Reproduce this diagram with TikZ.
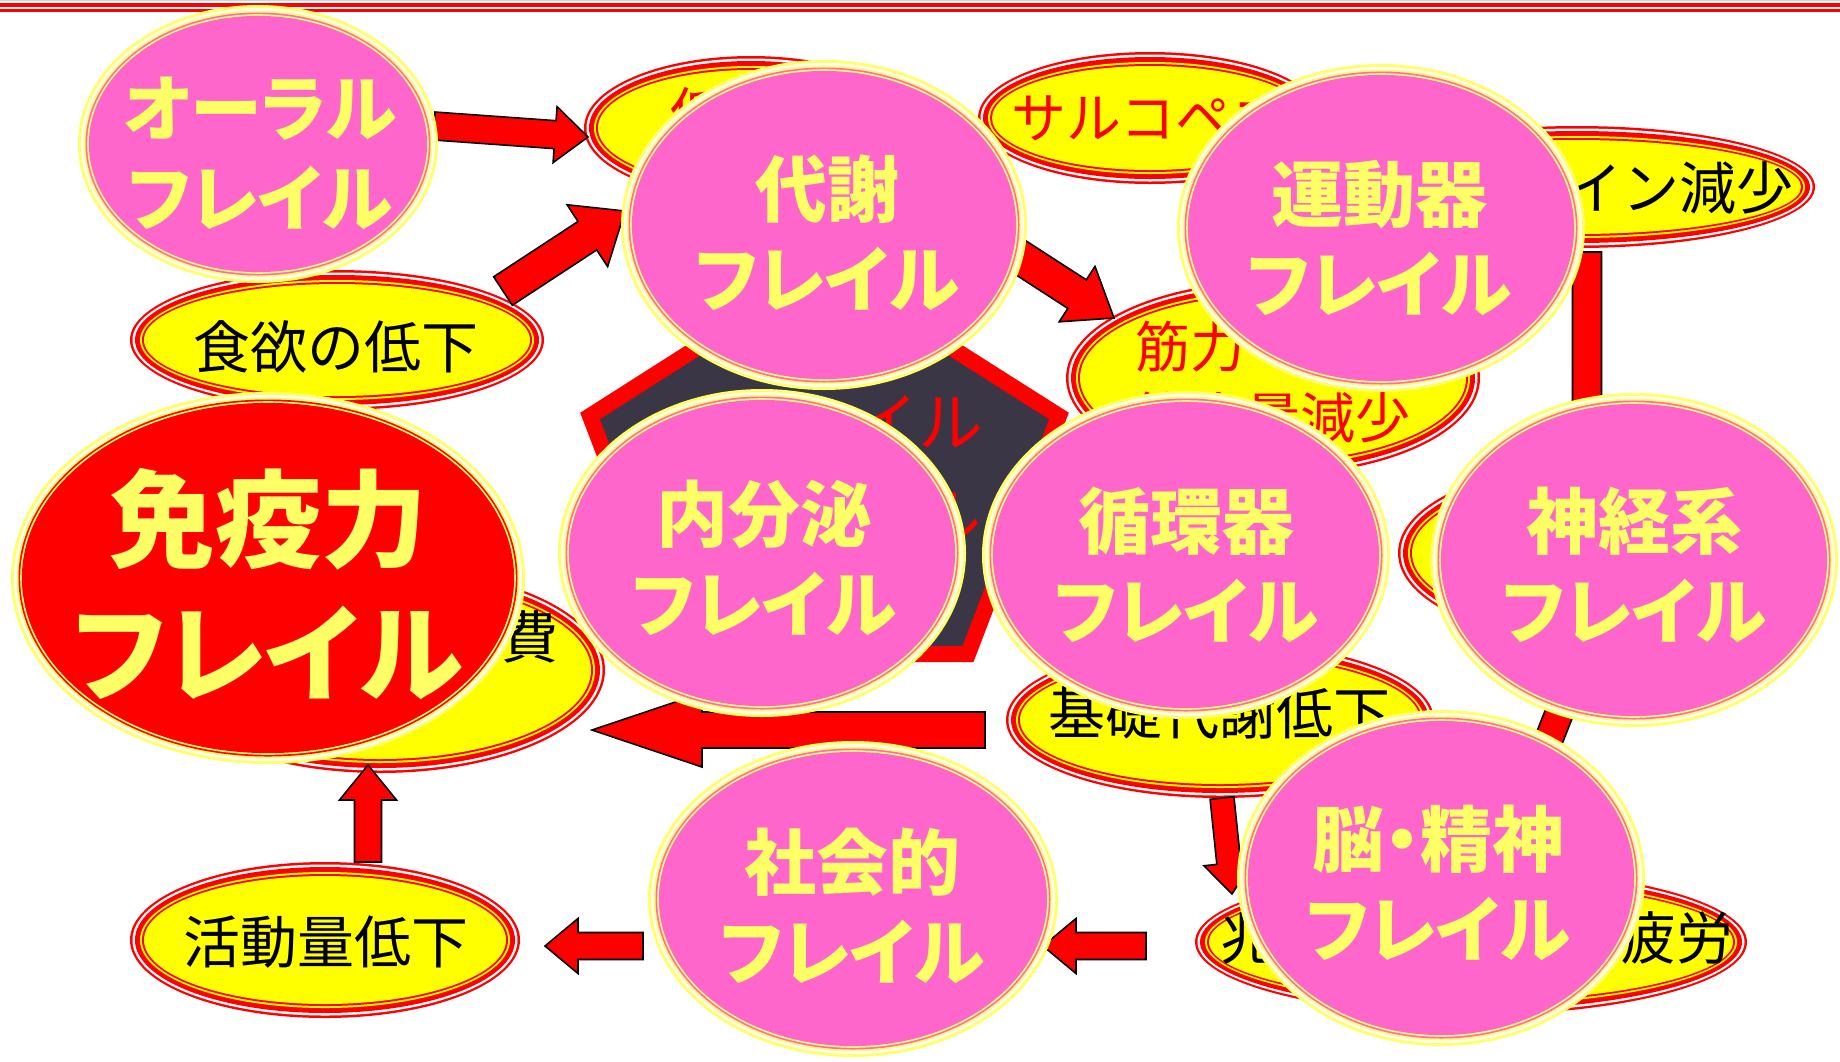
\documentclass[tikz,border=0pt]{standalone}
\usepackage{fontspec}
\newfontfamily\jp{Noto Sans CJK JP}
\newfontfamily\jpp{Noto Sans CJK JP}[RawFeature=+palt]
\usetikzlibrary{calc,shapes.geometric}
\definecolor{pinkF}{HTML}{FF66CC}
\definecolor{ringY}{HTML}{FFFF66}
\definecolor{txtY}{HTML}{FFFF66}
\definecolor{yelF}{HTML}{FFFF00}
\definecolor{redF}{HTML}{FF0000}
\definecolor{slate}{HTML}{3A3646}
\tikzset{
  bub/.style={ellipse, inner sep=0pt},
  bigtxt/.style={text=txtY, align=center, inner sep=0pt, font=\jpp\bfseries\fontsize{36pt}{45pt}\selectfont},
  hugetxt/.style={text=txtY, align=center, inner sep=0pt, font=\jpp\bfseries\fontsize{53pt}{67pt}\selectfont},
  smalltxt/.style={text=black, align=center, inner sep=0pt, font=\jp\fontsize{28.5pt}{35.5pt}\selectfont},
  redtxt/.style={smalltxt, text=redF, font=\jp\fontsize{27.5pt}{35.5pt}\selectfont},
  penttxt/.style={text=redF, align=center, inner sep=0pt, font=\jp\fontsize{32.5pt}{47.5pt}\selectfont},
  barrowS/.style={draw=black, line width=0.8pt, fill=redF, line join=miter},
  pentS/.style={draw=redF, line width=8pt, fill=slate, line join=miter},
}
% yellow bubble with red rings: name, x, y, rx, ry (outer radii, px)
\newcommand\yelEl[5]{%
  \fill[redF] (#2,#3) ellipse [x radius=#4, y radius=#5];
  \fill[white] (#2,#3) ellipse [x radius=#4-2.5, y radius=#5-2.5];
  \fill[redF] (#2,#3) ellipse [x radius=#4-5, y radius=#5-5];
  \fill[yelF] (#2,#3) ellipse [x radius=#4-10, y radius=#5-10];
  \fill[redF] (#2,#3) ellipse [x radius=#4-12, y radius=#5-12];
  \fill[yelF] (#2,#3) ellipse [x radius=#4-14, y radius=#5-14];
  \node[bub, minimum width=#4*1pt, minimum height=#5*1pt] (#1) at (#2,#3) {};}
% bubble with pale yellow rings: name, x, y, rx, ry, fill colour
\newcommand\pinkEl[6]{%
  \fill[ringY] (#2,#3) ellipse [x radius=#4, y radius=#5];
  \fill[white] (#2,#3) ellipse [x radius=#4-3, y radius=#5-3];
  \fill[ringY] (#2,#3) ellipse [x radius=#4-5.5, y radius=#5-5.5];
  \fill[#6] (#2,#3) ellipse [x radius=#4-7.5, y radius=#5-7.5];
  \fill[ringY] (#2,#3) ellipse [x radius=#4-9.2, y radius=#5-9.2];
  \fill[#6] (#2,#3) ellipse [x radius=#4-10.9, y radius=#5-10.9];
  \node[bub, minimum width=#4*1pt, minimum height=#5*1pt] (#1) at (#2,#3) {};}
% block arrow: from, to, shaft half width, head half width, head length (px)
\newcommand\barrow[5]{%
  \path let \p1=(#1), \p2=(#2) in \pgfextra{%
    \pgfmathsetmacro\bang{atan2(\y2-\y1,\x2-\x1)}%
    \pgfmathsetmacro\blen{veclen(\x2-\x1,\y2-\y1)}%
    \xdef\gang{\bang}\xdef\glen{\blen}};
  \begin{scope}[shift={(#1)}, rotate=\gang]
    \draw[barrowS] (0pt,#3*0.5pt) -- ({\glen pt-#5*0.5pt},#3*0.5pt)
      -- ({\glen pt-#5*0.5pt},#4*0.5pt) -- (\glen pt,0pt)
      -- ({\glen pt-#5*0.5pt},-#4*0.5pt) -- ({\glen pt-#5*0.5pt},-#3*0.5pt)
      -- (0pt,-#3*0.5pt) -- cycle;
  \end{scope}}
\begin{document}
\begin{tikzpicture}[x=0.5pt,y=-0.5pt]
\useasboundingbox (0,0) rectangle (1840,1061);
\fill[white] (0,0) rectangle (1840,1061);
% top rule
\fill[gray!35] (0,0) rectangle (1840,1.2);
\fill[redF] (0,2.7) rectangle (1840,6.7);
\fill[redF] (0,9) rectangle (1840,11.7);

% ---- yellow bubbles (lower layer)
\yelEl{teiei}{751}{128}{167}{72}
\node[redtxt] (t-teiei) at (753,113) {低栄養};
\yelEl{sarco}{1150}{118}{172}{66}
\node[redtxt] (t-sarco) at (1176,118) {サルコペニア};
\yelEl{myo}{1577}{187}{238}{61}
\node[smalltxt] (t-myo) at (1565,188) {マイオカイン減少};
\yelEl{shoku}{337}{340}{207}{70}
\node[smalltxt] (t-shoku) at (336,347) {食欲の低下};
\yelEl{shohi}{380}{670}{225}{103}
\node[smalltxt] (t-shohi) at (359,637) {エネルギー消費};
\yelEl{katsu}{325}{940}{195}{78}
\node[smalltxt] (t-katsu) at (326,942) {活動量低下};
\yelEl{kiso}{1220}{720}{214}{78}
\node[smalltxt] (t-kiso) at (1219,713) {基礎代謝低下};
\yelEl{hirou}{1471}{942}{276}{73}
\node[smalltxt] (t-hirou) at (1477,938) {兆候のある慢性疲労};
\yelEl{hokou}{1590}{553}{192}{88}
\node[smalltxt] (t-hokou) at (1608,530) {歩行速度低下};
\yelEl{kinryoku}{1273}{378}{207}{97}
\node[redtxt, align=left] (t-kinryoku) at (1273,382) {筋力・\\筋肉量減少};

% ---- central pentagon
\draw[pentS] (824,267) -- (1059,416) -- (968,654) -- (681,654) -- (590,416) -- cycle;
\node[penttxt] (t-pent) at (853,470) {フレイル\\サイクル};

% ---- block arrows
\coordinate (a1s) at (434,126);  \coordinate (a1e) at (588,137);
\coordinate (a2s) at (503,291);  \coordinate (a2e) at (625,211);
\coordinate (a3s) at (1015,254); \coordinate (a3e) at (1114,318);
\coordinate (a4s) at (985,730);  \coordinate (a4e) at (592,730);
\coordinate (a5s) at (368,862);  \coordinate (a5e) at (368,765);
\coordinate (a6s) at (643,946);  \coordinate (a6e) at (545,946);
\coordinate (a7s) at (1146,946); \coordinate (a7e) at (1043,946);
\coordinate (a8s) at (1222,798); \coordinate (a8e) at (1232,894);
\coordinate (a9s) at (1587,252); \coordinate (a9e) at (1587,480);
\coordinate (a10s) at (1580,660); \coordinate (a10e) at (1525,800);
\barrow{a1s}{a1e}{14}{28}{33}
\barrow{a2s}{a2e}{17}{37}{45}
\barrow{a3s}{a3e}{17}{33}{44}
\barrow{a4s}{a4e}{18}{37}{110}
\barrow{a5s}{a5e}{13.5}{28.5}{35}
\barrow{a6s}{a6e}{13.5}{27.5}{33}
\barrow{a7s}{a7e}{13.5}{27.5}{33}
\barrow{a8s}{a8e}{12}{25}{31}
\barrow{a9s}{a9e}{14.5}{30}{35}
\barrow{a10s}{a10e}{14}{30}{35}

% ---- frailty bubbles (upper layer)
\pinkEl{oral}{258}{144}{180}{139}{pinkF}
\node[bigtxt] (t-oral) at (260,153) {オーラル\\フレイル};
\pinkEl{taisha}{824}{225}{203}{165}{pinkF}
\node[bigtxt] (t-taisha) at (827,233) {代謝\\フレイル};
\pinkEl{undo}{1381}{228}{204}{164}{pinkF}
\node[bigtxt] (t-undo) at (1379,238) {運動器\\フレイル};
\pinkEl{naibun}{762}{553}{204}{164}{pinkF}
\node[bigtxt] (t-naibun) at (764,558) {内分泌\\フレイル};
\pinkEl{junkan}{1186}{555}{204}{164}{pinkF}
\node[bigtxt] (t-junkan) at (1186,565) {循環器\\フレイル};
\pinkEl{shinkei}{1634}{560}{204}{167}{pinkF}
\node[bigtxt] (t-shinkei) at (1634,565) {神経系\\フレイル};
\pinkEl{shakai}{853}{899}{205}{158}{pinkF}
\node[bigtxt] (t-shakai) at (852,906) {社会的\\フレイル};
\pinkEl{nou}{1441}{878}{204}{168}{pinkF}
\node[bigtxt] (t-nou) at (1438,883) {脳・精神\\フレイル};
\pinkEl{meneki}{268}{578}{257}{186}{redF}
\node[hugetxt] (t-meneki) at (268,584) {免疫力\\フレイル};
\end{tikzpicture}
\end{document}
